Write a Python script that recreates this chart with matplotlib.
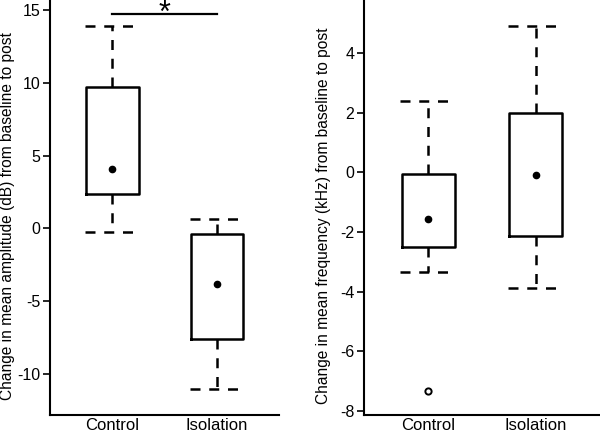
import matplotlib
matplotlib.use("Agg")
import matplotlib.pyplot as plt

plt.rcParams['font.family'] = ['Liberation Sans', 'DejaVu Sans']

categories = ["Control", "Isolation"]

# Amplitude panel (dB)
amp_q1 = [2.4, -7.6]
amp_q3 = [9.73, -0.35]
amp_center = [4.1, -3.84]
amp_whislo = [-0.25, -11.0]
amp_whishi = [13.9, 0.66]
amp_fliers = [[], []]

# Frequency panel (kHz)
frq_q1 = [-2.5, -2.13]
frq_q3 = [-0.045, 1.99]
frq_center = [-1.55, -0.09]
frq_whislo = [-3.35, -3.87]
frq_whishi = [2.40, 4.92]
frq_fliers = [[-7.32], []]

amp_label = "Change in mean amplitude (dB) from baseline to post"
frq_label = "Change in mean frequency (kHz) from baseline to post"
amp_ticks = [-10, -5, 0, 5, 10, 15]
frq_ticks = [-8, -6, -4, -2, 0, 2, 4]

fig = plt.figure(figsize=(6.0, 4.3), dpi=100)
ax1 = fig.add_axes([0.0833, 0.0349, 0.382, 0.9651])
ax2 = fig.add_axes([0.6067, 0.0349, 0.3933, 0.9651])

dash = (0, (4.0, 3.5))


def draw(ax, q1, q3, center, lo, hi, fliers, ylabel, ticks, ylim, labx):
    stats = []
    for i in range(len(categories)):
        stats.append(dict(med=center[i], q1=q1[i], q3=q3[i], whislo=lo[i],
                          whishi=hi[i], fliers=fliers[i], mean=center[i],
                          label=categories[i]))
    pos = list(range(1, len(categories) + 1))
    ax.bxp(stats, positions=pos, widths=0.5, capwidths=0.52,
           showmeans=True, showfliers=True,
           boxprops=dict(color='black', linewidth=1.8),
           whiskerprops=dict(color='black', linewidth=1.8, linestyle=dash),
           capprops=dict(color='black', linewidth=1.8, linestyle=dash),
           medianprops=dict(visible=False),
           meanprops=dict(marker='o', markerfacecolor='black', markeredgecolor='black',
                          markersize=4.5),
           flierprops=dict(marker='o', markerfacecolor='white', markeredgecolor='black',
                           markersize=4.5, markeredgewidth=1.4))
    ax.set_xlim(0.4, 2.6)
    ax.set_ylim(*ylim)
    ax.set_yticks(ticks)
    ax.set_yticklabels([str(t) for t in ticks])
    ax.set_xticks(pos)
    ax.set_xticklabels(categories)
    ax.spines['top'].set_visible(False)
    ax.spines['right'].set_visible(False)
    ax.spines['left'].set_linewidth(1.5)
    ax.spines['bottom'].set_linewidth(1.5)
    ax.tick_params(axis='y', length=5, width=1.2, labelsize=11.5, pad=2)
    ax.tick_params(axis='x', length=0, labelsize=12, pad=2)
    ax.set_ylabel(ylabel, fontsize=11.2, va='top')
    ax.yaxis.set_label_coords(labx, 0.48)


draw(ax1, amp_q1, amp_q3, amp_center, amp_whislo, amp_whishi, amp_fliers,
     amp_label, amp_ticks, (-12.8, 15.68), -50 / 229)
draw(ax2, frq_q1, frq_q3, frq_center, frq_whislo, frq_whishi, frq_fliers,
     frq_label, frq_ticks, (-8.14, 5.79), -48 / 236)

# significance bar
ax1.plot([1, 2], [14.7, 14.7], color='black', linewidth=1.6, clip_on=False)
ax1.text(1.5, 14.15, "*", ha='center', va='baseline', fontsize=22, clip_on=False)

fig.savefig("out.png", dpi=100)
